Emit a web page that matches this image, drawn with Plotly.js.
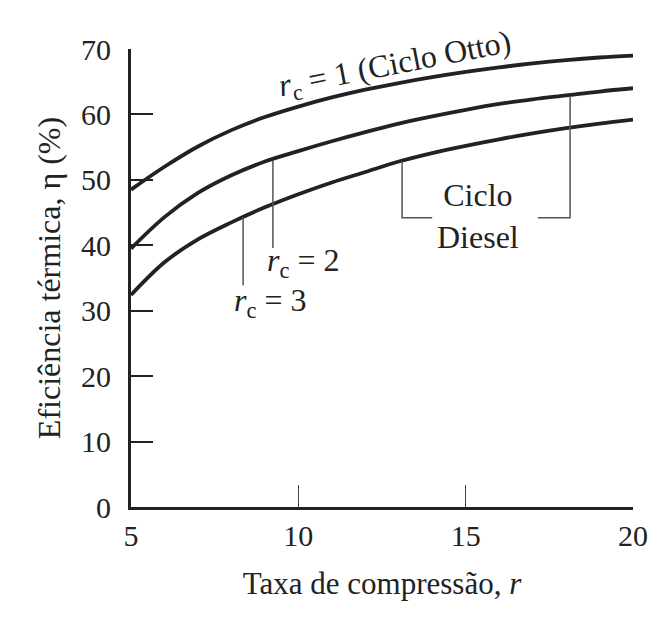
<!DOCTYPE html>
<html>
<head>
<meta charset="utf-8">
<script src="https://cdn.plot.ly/plotly-3.0.1.min.js"></script>
<style>html,body{margin:0;padding:0;background:#fff;}#chart{width:671px;height:625px;}</style>
</head>
<body>
<div id="chart"></div>
<script>
// Compression ratio r
const r = [5, 6, 7, 8, 9, 10, 11, 12, 13, 14, 15, 16, 17, 18, 19, 20];
// Thermal efficiency (%)
const etaOtto = [48.5, 52.0, 55.1, 57.6, 59.6, 61.2, 62.6, 63.8, 64.8, 65.7, 66.5, 67.2, 67.8, 68.3, 68.7, 69.0];
const etaRc2  = [39.5, 44.3, 48.0, 50.7, 52.8, 54.4, 55.9, 57.3, 58.6, 59.7, 60.7, 61.6, 62.3, 62.9, 63.5, 64.0];
const etaRc3  = [32.4, 37.4, 40.9, 43.5, 45.8, 47.8, 49.6, 51.2, 52.8, 54.1, 55.2, 56.2, 57.1, 57.9, 58.6, 59.2];
const xTicks = [5, 10, 15, 20];
const yTicks = [0, 10, 20, 30, 40, 50, 60, 70];

const FONT = "'Liberation Serif', 'Times New Roman', serif";
const INK = "#222";

function curve(y) {
  return {x: r, y: y, mode: "lines", type: "scatter", showlegend: false,
          line: {color: INK, width: 3.8, shape: "spline"}, hoverinfo: "skip", cliponaxis: false};
}

const data = [curve(etaOtto), curve(etaRc2), curve(etaRc3)];

const lead = {color: "#555", width: 1.5};
const shapes = [
  {type: "line", xref: "x", yref: "y", x0: 9.24, x1: 9.24, y0: 52.9, y1: 39.6, line: lead},
  {type: "line", xref: "x", yref: "y", x0: 8.35, x1: 8.35, y0: 44.3, y1: 33.9, line: lead},
  {type: "path", xref: "x", yref: "y", path: "M 13.1 52.9 L 13.1 44.2 L 14.0 44.2", line: lead},
  {type: "path", xref: "x", yref: "y", path: "M 18.12 62.8 L 18.12 44.2 L 17.16 44.2", line: lead}
];

const annFont = {family: FONT, size: 32, color: INK};
const annotations = [
  {x: 12.9, y: 67.5, xref: "x", yref: "y", text: "<i>r</i><sub>c</sub> = 1 (Ciclo Otto)",
   showarrow: false, textangle: -11, font: annFont},
  {x: 10.14, y: 37.3, xref: "x", yref: "y", text: "<i>r</i><sub>c</sub> = 2",
   showarrow: false, font: annFont},
  {x: 9.15, y: 31.3, xref: "x", yref: "y", text: "<i>r</i><sub>c</sub> = 3",
   showarrow: false, font: annFont},
  {x: 15.37, y: 44.5, xref: "x", yref: "y", text: "Ciclo<br>Diesel",
   showarrow: false, font: annFont, align: "center"}
];

const layout = {
  width: 671, height: 625,
  margin: {l: 131, r: 38, t: 49, b: 118},
  paper_bgcolor: "#fff", plot_bgcolor: "#fff",
  font: {family: FONT, color: INK},
  xaxis: {
    range: [5, 20], tickvals: xTicks, ticktext: xTicks.map(String),
    showgrid: false, zeroline: false, showline: true, linecolor: INK, linewidth: 3,
    ticks: "inside", ticklen: 22, tickwidth: 1.5, tickcolor: "#444",
    tickfont: {family: FONT, size: 30, color: INK}, ticklabelstandoff: 0,
    title: {text: "Taxa de compressão, <i>r</i>", font: {family: FONT, size: 31, color: INK}, standoff: 22},
    fixedrange: true
  },
  yaxis: {
    range: [0, 70], tickvals: yTicks, ticktext: yTicks.map(String),
    showgrid: false, zeroline: false, showline: true, linecolor: INK, linewidth: 3,
    ticks: "inside", ticklen: 22, tickwidth: 2, tickcolor: INK,
    tickfont: {family: FONT, size: 30, color: INK}, ticklabelstandoff: 11,
    title: {text: "Eficiência térmica, η (%)", font: {family: FONT, size: 32, color: INK}, standoff: 11},
    fixedrange: true
  },
  shapes: shapes,
  annotations: annotations,
  showlegend: false
};

Plotly.newPlot("chart", data, layout, {displayModeBar: false, staticPlot: true});
</script>
</body>
</html>
